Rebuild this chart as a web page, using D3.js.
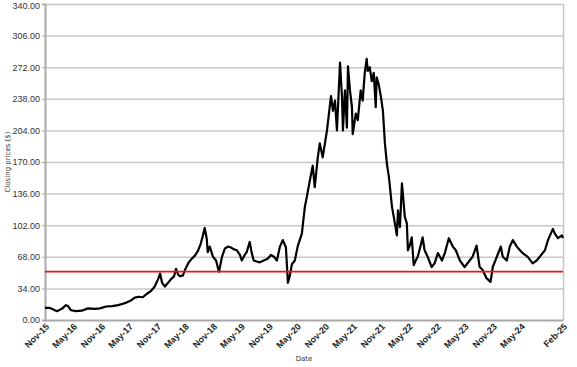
<!DOCTYPE html>
<html>
<head>
<meta charset="utf-8">
<script src="https://cdn.jsdelivr.net/npm/d3@7"></script>
<style>
  body { margin: 0; background: #fff; }
  svg { display: block; font-family: "DejaVu Sans", Verdana, sans-serif; }
</style>
</head>
<body>
<div id="chart"></div>
<script>
// closing prices
const dates = [
  "2015-11-01","2015-12-03","2015-12-29","2016-01-18","2016-02-19","2016-03-17","2016-03-30","2016-04-18",
  "2016-05-21","2016-06-28","2016-08-07","2016-09-21","2016-10-24","2016-12-04","2017-01-12","2017-02-20",
  "2017-03-24","2017-04-19","2017-05-14","2017-06-09","2017-07-05","2017-07-31","2017-08-26","2017-09-21",
  "2017-10-17","2017-11-08","2017-11-21","2017-12-04","2017-12-23","2018-01-12","2018-01-31","2018-02-20",
  "2018-03-05","2018-03-18","2018-03-31","2018-04-19","2018-05-08","2018-05-27","2018-06-16","2018-07-05",
  "2018-07-25","2018-08-13","2018-08-26","2018-09-08","2018-09-21","2018-09-28","2018-10-11","2018-11-01",
  "2018-11-21","2018-12-10","2018-12-30","2019-01-18","2019-02-07","2019-02-26","2019-03-18","2019-04-06",
  "2019-04-26","2019-05-08","2019-05-27","2019-06-09","2019-06-29","2019-07-12","2019-07-25","2019-08-13",
  "2019-09-02","2019-09-28","2019-10-24","2019-11-14","2019-12-04","2019-12-23","2020-01-12","2020-01-31",
  "2020-02-20","2020-03-04","2020-03-17","2020-03-30","2020-04-18","2020-05-08","2020-06-03","2020-06-22",
  "2020-07-05","2020-07-25","2020-08-13","2020-08-26","2020-09-15","2020-09-28","2020-10-17","2020-11-14",
  "2020-12-10","2020-12-23","2021-01-05","2021-01-18","2021-02-07","2021-02-20","2021-02-26","2021-03-11",
  "2021-03-24","2021-03-31","2021-04-13","2021-04-26","2021-05-01","2021-05-21","2021-06-03","2021-06-22",
  "2021-07-05","2021-07-18","2021-07-31","2021-08-07","2021-08-20","2021-09-02","2021-09-15","2021-09-28",
  "2021-10-04","2021-10-17","2021-11-01","2021-11-14","2021-11-27","2021-12-10","2021-12-23","2022-01-12",
  "2022-01-31","2022-02-13","2022-02-20","2022-03-05","2022-03-18","2022-03-24","2022-04-06","2022-04-19",
  "2022-04-26","2022-05-08","2022-05-21","2022-06-03","2022-06-16","2022-06-29","2022-07-18","2022-07-31",
  "2022-08-13","2022-09-02","2022-09-28","2022-10-17","2022-11-08","2022-12-04","2022-12-23","2023-01-18",
  "2023-02-13","2023-03-05","2023-03-31","2023-05-01","2023-06-03","2023-06-22","2023-07-18","2023-08-07",
  "2023-08-26","2023-09-21","2023-10-17","2023-11-01","2023-11-27","2023-12-23","2024-01-05","2024-01-31",
  "2024-02-20","2024-03-11","2024-04-06","2024-04-26","2024-05-14","2024-06-16","2024-07-18","2024-08-13",
  "2024-09-02","2024-10-06","2024-10-26","2024-11-27","2024-12-10","2024-12-30","2025-01-25","2025-02-01"
];
const prices = [
  13, 13, 11, 9.5, 12, 16, 15, 10.5,
  9.5, 10, 12.5, 12, 12.5, 14.5, 15, 16,
  17.5, 19, 21, 24, 25, 24.5, 28, 31,
  36, 44, 50, 40, 36, 40, 44, 47,
  55, 49, 47, 48, 56, 62, 66, 69,
  74, 82, 90, 99, 88, 73, 79, 68,
  64, 52, 68, 77, 79, 78, 76, 75,
  70, 64, 70, 73, 84, 72, 64, 63,
  62, 64, 66, 70, 68, 64, 79, 86,
  78, 40, 48, 60, 64, 80, 93, 121,
  132, 150, 166, 143, 175, 190, 175, 204,
  241, 225, 236, 204, 277, 240, 204, 247,
  207, 273, 247, 229, 200, 222, 215, 247,
  236, 265, 281, 268, 272, 257, 266, 229,
  261, 254, 240, 225, 190, 168, 154, 122,
  104, 91, 118, 100, 147, 136, 111, 104,
  75, 80, 89, 59, 64, 68, 80, 89,
  75, 68, 57, 61, 72, 64, 72, 88,
  79, 75, 64, 57, 64, 68, 80, 57,
  54, 45, 41, 57, 68, 79, 68, 64,
  79, 86, 79, 75, 72, 68, 61, 64,
  68, 75, 86, 98, 93, 88, 91, 88
];
const yTicks = [0, 34, 68, 102, 136, 170, 204, 238, 272, 306, 340];
const xTickDates = ["2015-11-01","2016-05-01","2016-11-01","2017-05-01","2017-11-01","2018-05-01",
  "2018-11-01","2019-05-01","2019-11-01","2020-05-01","2020-11-01","2021-05-01","2021-11-01",
  "2022-05-01","2022-11-01","2023-05-01","2023-11-01","2024-05-01","2025-02-01"];
const threshold = 52;

const parse = d3.timeParse("%Y-%m-%d");
const data = dates.map((d, i) => ({date: parse(d), close: prices[i]}));

const width = 577, height = 367;
const margin = {top: 4, right: 14, bottom: 47, left: 45};

const x = d3.scaleTime()
  .domain([parse("2015-11-01"), parse("2025-02-01")])
  .range([margin.left, width - margin.right]);

const y = d3.scaleLinear()
  .domain([0, 340])
  .range([height - margin.bottom, margin.top]);

const svg = d3.select("#chart").append("svg")
  .attr("width", width)
  .attr("height", height);

// gridlines
svg.append("g")
  .selectAll("line")
  .data(yTicks.slice(1))
  .join("line")
  .attr("x1", margin.left)
  .attr("x2", width - margin.right)
  .attr("y1", d => y(d) + 0.5)
  .attr("y2", d => y(d) + 0.5)
  .attr("stroke", "#c8c8c8")
  .attr("stroke-width", 1.5);

// right frame line
svg.append("line")
  .attr("x1", width - margin.right + 0.5)
  .attr("x2", width - margin.right + 0.5)
  .attr("y1", margin.top)
  .attr("y2", height - margin.bottom)
  .attr("stroke", "#c8c8c8")
  .attr("stroke-width", 1.5);

// y axis
const gy = svg.append("g")
  .attr("transform", `translate(${margin.left},0)`)
  .call(d3.axisLeft(y).tickValues(yTicks).tickFormat(d3.format(".2f")).tickSize(3).tickPadding(2));
gy.select(".domain").attr("stroke", "#a8a8a8").attr("stroke-width", 2);
gy.selectAll(".tick line").attr("stroke", "#a8a8a8");
gy.selectAll(".tick text").attr("fill", "#333").attr("font-size", 9);
gy.selectAll(".tick text").filter(d => d === 340).attr("dy", "0.5em");

// x axis
const gx = svg.append("g")
  .attr("transform", `translate(0,${height - margin.bottom})`)
  .call(d3.axisBottom(x).tickValues(xTickDates.map(parse)).tickFormat(d3.timeFormat("%b-%y")).tickSize(0));
gx.select(".domain").attr("stroke", "#a8a8a8").attr("stroke-width", 2);
gx.selectAll(".tick text")
  .attr("fill", "#222")
  .attr("font-size", 9)
  .attr("font-weight", "bold")
  .attr("text-anchor", "end")
  .attr("dy", "0.35em")
  .attr("transform", "translate(2,5) rotate(-45)")
  .attr("y", 0)
  .attr("x", 0);

// price line
svg.append("path")
  .datum(data)
  .attr("fill", "none")
  .attr("stroke", "#000")
  .attr("stroke-width", 2.2)
  .attr("stroke-linejoin", "round")
  .attr("d", d3.line().x(d => x(d.date)).y(d => y(d.close)));

// threshold line
svg.append("line")
  .attr("x1", margin.left)
  .attr("x2", width - margin.right)
  .attr("y1", y(threshold))
  .attr("y2", y(threshold))
  .attr("stroke", "#e8151b")
  .attr("stroke-width", 1.8);

// titles
svg.append("text")
  .attr("x", 304)
  .attr("y", 361)
  .attr("text-anchor", "middle")
  .attr("font-size", 7)
  .attr("fill", "#333")
  .text("Date");

svg.append("text")
  .attr("transform", `translate(10,${(margin.top + height - margin.bottom) / 2}) rotate(-90)`)
  .attr("text-anchor", "middle")
  .attr("font-size", 7)
  .attr("fill", "#333")
  .text("Closing prices ($)");
</script>
</body>
</html>
